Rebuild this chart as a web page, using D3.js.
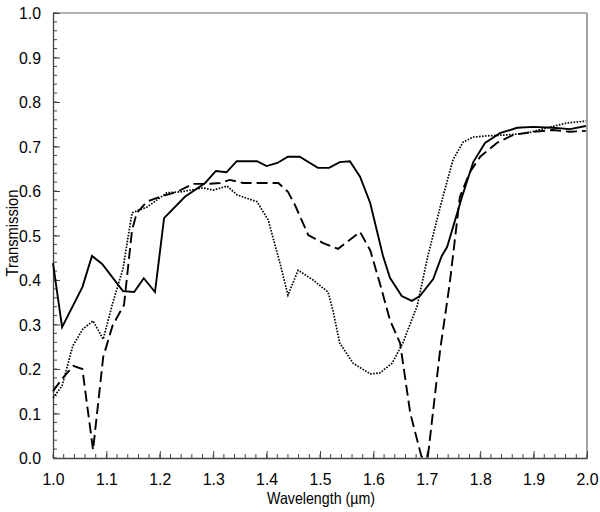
<!DOCTYPE html>
<html><head><meta charset="utf-8">
<script src="https://cdn.jsdelivr.net/npm/d3@7"></script>
<style>
body{margin:0;background:#fff;}
svg text{font-family:"Liberation Sans",Arial,sans-serif;fill:#000;}
</style></head>
<body><svg id="c" width="600" height="512"></svg>
<script>
const xTicks = [1.0,1.1,1.2,1.3,1.4,1.5,1.6,1.7,1.8,1.9,2.0];
const yTicks = [0.0,0.1,0.2,0.3,0.4,0.5,0.6,0.7,0.8,0.9,1.0];

const solidX = [1.0,1.017,1.055,1.073,1.092,1.131,1.152,1.170,1.191,1.208,1.247,1.285,1.305,1.325,1.344,1.382,1.40,1.42,1.44,1.462,1.496,1.517,1.537,1.556,1.575,1.594,1.618,1.631,1.653,1.672,1.687,1.712,1.728,1.738,1.766,1.787,1.809,1.837,1.869,1.899,1.936,1.968,1.998];
const solidY = [0.438,0.294,0.384,0.454,0.436,0.375,0.373,0.404,0.373,0.539,0.587,0.618,0.645,0.642,0.667,0.667,0.656,0.663,0.677,0.677,0.652,0.652,0.665,0.667,0.632,0.573,0.454,0.405,0.364,0.353,0.364,0.402,0.454,0.474,0.587,0.665,0.708,0.730,0.742,0.744,0.742,0.739,0.746];

const dashX = [1.0,1.017,1.038,1.055,1.075,1.094,1.112,1.133,1.148,1.157,1.176,1.2,1.232,1.262,1.288,1.313,1.331,1.356,1.393,1.422,1.44,1.453,1.478,1.506,1.534,1.575,1.594,1.612,1.631,1.650,1.669,1.690,1.702,1.725,1.743,1.762,1.781,1.80,1.831,1.862,1.899,1.936,1.968,1.998];
const dashY = [0.15,0.178,0.207,0.2,0.018,0.227,0.299,0.344,0.512,0.551,0.576,0.587,0.598,0.616,0.616,0.618,0.625,0.618,0.618,0.618,0.598,0.569,0.501,0.483,0.470,0.508,0.467,0.393,0.310,0.258,0.101,0.003,0.003,0.243,0.393,0.587,0.643,0.677,0.708,0.726,0.733,0.737,0.733,0.735];

const dotX = [1.0,1.017,1.037,1.056,1.075,1.094,1.112,1.131,1.148,1.176,1.195,1.213,1.238,1.281,1.30,1.326,1.345,1.382,1.403,1.425,1.44,1.459,1.487,1.515,1.524,1.537,1.562,1.594,1.612,1.635,1.655,1.682,1.702,1.725,1.749,1.768,1.787,1.813,1.850,1.888,1.925,1.963,1.998];
const dotY = [0.135,0.162,0.252,0.29,0.308,0.267,0.349,0.425,0.551,0.564,0.580,0.596,0.598,0.607,0.602,0.611,0.591,0.576,0.535,0.438,0.366,0.422,0.40,0.373,0.333,0.258,0.213,0.189,0.191,0.213,0.258,0.342,0.454,0.564,0.670,0.710,0.721,0.724,0.726,0.730,0.742,0.753,0.757];

const L=53,R=587,T=13,B=458;
const svg=d3.select("#c");
const x=d3.scaleLinear().domain([1,2]).range([L,R]);
const y=d3.scaleLinear().domain([0,1]).range([B,T]);

// frame
svg.append("line").attr("x1",L).attr("x2",R).attr("y1",T).attr("y2",T).attr("stroke","#666").attr("stroke-width",1.2);
svg.append("line").attr("x1",R).attr("x2",R).attr("y1",T).attr("y2",B).attr("stroke","#666").attr("stroke-width",1.2);

// minor ticks
const minor = d3.range(0,1.0001,0.02);
svg.append("g").selectAll("line").data(minor).join("line")
  .attr("x1",L).attr("x2",L+4).attr("y1",d=>y(d)).attr("y2",d=>y(d)).attr("stroke","#444");
svg.append("g").selectAll("line").data(minor).join("line")
  .attr("x1",d=>x(1+d)).attr("x2",d=>x(1+d)).attr("y1",B).attr("y2",B-4).attr("stroke","#444");

const yAxis=d3.axisLeft(y).tickValues(yTicks).tickFormat(d3.format(".1f")).tickSizeInner(-7).tickSizeOuter(0).tickPadding(12);
const gy=svg.append("g").attr("transform",`translate(${L},0)`).call(yAxis);
const xAxis=d3.axisBottom(x).tickValues(xTicks).tickFormat(d3.format(".1f")).tickSizeInner(-7).tickSizeOuter(0).tickPadding(15);
const gx=svg.append("g").attr("transform",`translate(0,${B})`).call(xAxis);
[gx,gy].forEach(g=>{
  g.selectAll("text").style("font-size","16.5px").attr("textLength",22).attr("lengthAdjust","spacingAndGlyphs");
  g.select(".domain").attr("stroke","#444").attr("stroke-width",1.3);
  g.selectAll(".tick line").attr("stroke","#444");
});
gy.selectAll("text").attr("dy","0.36em");

svg.append("text").attr("x",321).attr("y",504).attr("text-anchor","middle").style("font-size","16.5px")
  .attr("textLength",108).attr("lengthAdjust","spacingAndGlyphs").text("Wavelength (\u00b5m)");
svg.append("text").attr("transform","translate(18,233) rotate(-90)").attr("text-anchor","middle").style("font-size","16px")
  .attr("textLength",87).attr("lengthAdjust","spacingAndGlyphs").text("Transmission");

const line=d3.line().x(d=>x(d[0])).y(d=>y(d[1]));
const plot=svg.append("g");
plot.append("path").datum(dotX.map((v,i)=>[v,dotY[i]])).attr("d",line)
  .attr("fill","none").attr("stroke","#000").attr("stroke-width",1.7).attr("stroke-dasharray","1.6,1.4");
plot.append("path").datum(dashX.map((v,i)=>[v,dashY[i]])).attr("d",line)
  .attr("fill","none").attr("stroke","#000").attr("stroke-width",1.9).attr("stroke-dasharray","11,5");
plot.append("path").datum(solidX.map((v,i)=>[v,solidY[i]])).attr("d",line)
  .attr("fill","none").attr("stroke","#000").attr("stroke-width",1.9);
</script></body></html>
